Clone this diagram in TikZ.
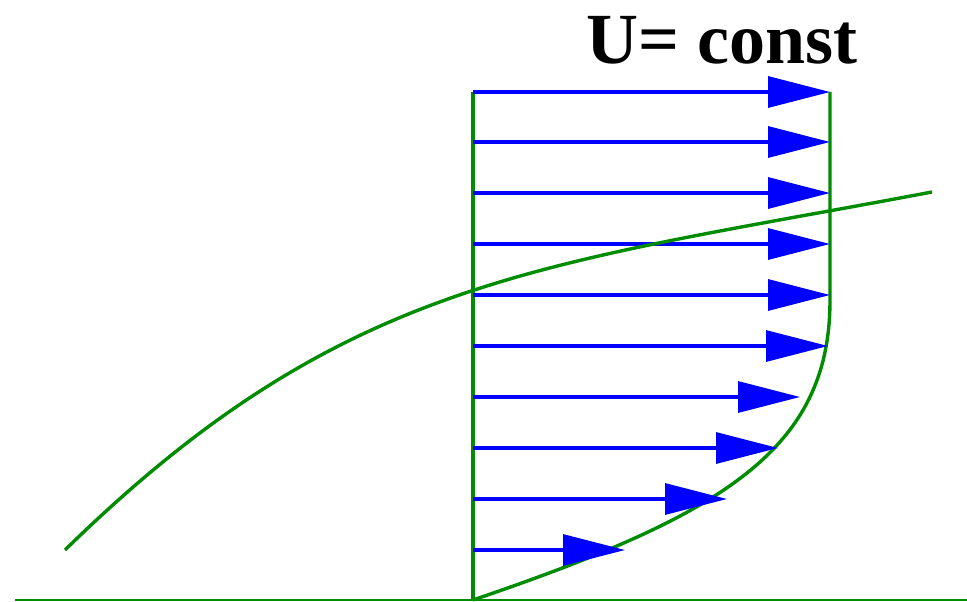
\documentclass[tikz,border=0pt]{standalone}
\usepackage{fontspec}
\setmainfont{Liberation Serif}
\usepackage{xcolor}
\usetikzlibrary{arrows.meta}
\definecolor{wallgreen}{RGB}{0,140,0}
\definecolor{velblue}{RGB}{0,0,255}

\begin{document}
\begin{tikzpicture}[x=1pt, y=-1pt, line join=round,
    wall/.style={wallgreen, line width=3.4pt},
    vel/.style={velblue, line width=3.2pt, -{Triangle[length=62pt, width=31pt]}}]
    \useasboundingbox (0,0) rectangle (967,602);

    \node[anchor=base, font=\fontsize{72}{84}\selectfont\bfseries] (uconst) at (722,64) {U= const};

    % wall and profile
    \draw[wall, line width=2.8pt] (15,600) -- (967,600);
    \draw[wall] (473,92) -- (473,600);
    \draw[wall] (830,92) -- (830,300) .. controls (830,450) and (723,515) .. (473,600);

    % velocity arrows
    \foreach \y/\tip in {92/830, 142/830, 193/830, 244/830, 295/830, 346/828, 397/800, 448/778, 499/727, 550/625}
        \draw[vel] (473,\y) -- (\tip,\y);

    % edge of the boundary layer
    \draw[wall] (65,550) .. controls (345,276) and (540,266) .. (932,192);
\end{tikzpicture}
\end{document}
